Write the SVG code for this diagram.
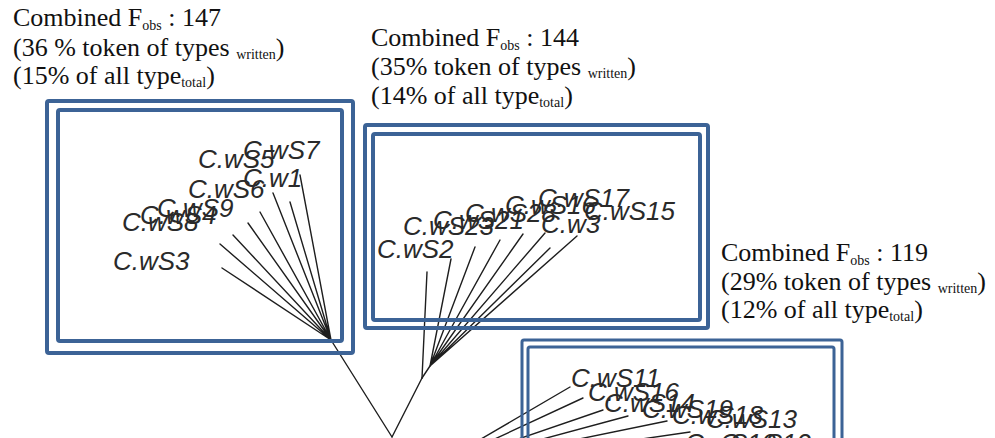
<svg xmlns="http://www.w3.org/2000/svg" width="995" height="438" viewBox="0 0 995 438">
<style>
.box{fill:none;stroke:#3c6396;stroke-width:4}
.box3{fill:none;stroke:#3c6396;stroke-width:3}
.br{stroke:#1e1e1e;stroke-width:1.4;fill:none;stroke-linecap:round}
.lab{font-family:"Liberation Sans",Arial,sans-serif;font-size:26px;font-style:italic;fill:#2a2a2a}
.ttl{font-family:"Liberation Serif","Times New Roman",serif;font-size:26px;fill:#111}
.sub{font-size:14px}
</style>
<rect width="995" height="438" fill="#fff"/>

<g id="edges">
  <path class="br" d="M392 437 L331 340"/>
  <path class="br" d="M392 437 L422 378"/>
  <path class="br" d="M422 378 L427 272"/>
  <path class="br" d="M422 378 L430 366"/>
  <path class="br" d="M331 340 L222 268 M331 340 L220 244 M331 340 L233 235 M331 340 L248 223 M331 340 L260 212 M331 340 L273 193 M331 340 L290 202 M331 340 L300 175"/>
  <path class="br" d="M430 366 L451 259 M430 366 L475 247 M430 366 L500 240 M430 366 L523 234 M430 366 L545 233 M430 366 L550 248 M430 366 L577 236"/>
  <path class="br" d="M428 470 L570 387 M428 470 L583 398 M428 470 L603 410 M428 470 L628 416 M428 470 L667 421 M428 470 L690 432 M428 470 L720 442"/>
</g>

<g id="title1">
  <text class="ttl" x="13" y="26">Combined F<tspan class="sub" dy="4">obs</tspan><tspan dy="-4"> : 147</tspan></text>
  <text class="ttl" x="13" y="56">(36 % token of types <tspan class="sub" dy="3">written</tspan><tspan dy="-3">)</tspan></text>
  <text class="ttl" x="13" y="84">(15% of all type<tspan class="sub" dy="3">total</tspan><tspan dy="-3">)</tspan></text>
</g>
<g id="title2">
  <text class="ttl" x="371" y="46">Combined F<tspan class="sub" dy="4">obs</tspan><tspan dy="-4"> : 144</tspan></text>
  <text class="ttl" x="371" y="75">(35% token of types <tspan class="sub" dy="3">written</tspan><tspan dy="-3">)</tspan></text>
  <text class="ttl" x="371" y="104">(14% of all type<tspan class="sub" dy="3">total</tspan><tspan dy="-3">)</tspan></text>
</g>
<g id="title3">
  <text class="ttl" x="721" y="261">Combined F<tspan class="sub" dy="4">obs</tspan><tspan dy="-4"> : 119</tspan></text>
  <text class="ttl" x="721" y="290">(29% token of types <tspan class="sub" dy="3">written</tspan><tspan dy="-3">)</tspan></text>
  <text class="ttl" x="721" y="318">(12% of all type<tspan class="sub" dy="3">total</tspan><tspan dy="-3">)</tspan></text>
</g>

<g id="cluster1">
  <rect class="box" x="47" y="101" width="306" height="252" rx="2"/>
  <rect class="box" x="58" y="110" width="284" height="231" rx="2"/>
  <text class="lab" x="113" y="270">C.wS3</text>
  <text class="lab" x="122" y="231">C.wS8</text>
  <text class="lab" x="140" y="224">C.wS4</text>
  <text class="lab" x="157" y="217">C.wS9</text>
  <text class="lab" x="188" y="198">C.wS6</text>
  <text class="lab" x="243" y="187">C.w1</text>
  <text class="lab" x="198" y="168">C.wS5</text>
  <text class="lab" x="243" y="159">C.wS7</text>
</g>

<g id="cluster2">
  <rect class="box" x="365" y="125" width="343" height="203" rx="2"/>
  <rect class="box" x="373" y="134" width="327" height="186" rx="2"/>
  <text class="lab" x="377" y="258">C.wS2</text>
  <text class="lab" x="403" y="235">C.wS23</text>
  <text class="lab" x="433" y="229">C.wS21</text>
  <text class="lab" x="465" y="222">C.wS28</text>
  <text class="lab" x="505" y="214">C.wS16</text>
  <text class="lab" x="538" y="207">C.wS17</text>
  <text class="lab" x="584" y="220">C.wS15</text>
  <text class="lab" x="541" y="233">C.w3</text>
</g>

<g id="cluster3">
  <rect class="box3" x="522" y="340" width="320" height="130" rx="2"/>
  <rect class="box3" x="528" y="347" width="306" height="120" rx="2"/>
  <text class="lab" x="571" y="387">C.wS11</text>
  <text class="lab" x="588" y="401">C.wS16</text>
  <text class="lab" x="604" y="412">C.wS14</text>
  <text class="lab" x="642" y="418">C.wS19</text>
  <text class="lab" x="672" y="424">C.wS18</text>
  <text class="lab" x="706" y="428">C.wS13</text>
  <text class="lab" x="685" y="452">C.wS10</text>
  <text class="lab" x="720" y="452">C.wS12</text>
</g>
</svg>
